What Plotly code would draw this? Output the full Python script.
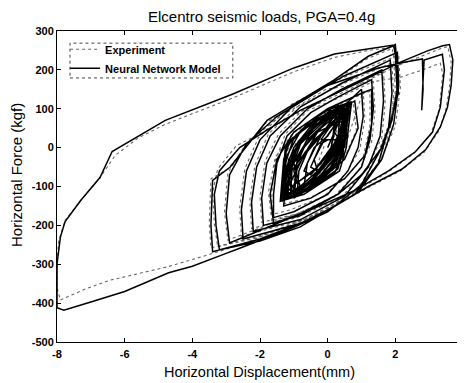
import plotly.graph_objects as go

# ---------------- data ----------------
title_text = "Elcentro seismic loads, PGA=0.4g"
x_title = "Horizontal Displacement(mm)"
y_title = "Horizontal Force (kgf)"
x_ticks = [-8, -6, -4, -2, 0, 2, 4]
y_ticks = [-500, -400, -300, -200, -100, 0, 100, 200, 300]

# Neural network model (solid) - central dense loops
nn_core_x = [0, 0.3, 0.55, 0.45, 0.2, -0.4, -0.9, -0.85, -0.6,
             0, 0.6, 0.5, 0.25, -0.5, -1.1, -1.05, -0.8,
             -0.2, 0.65, 0.5, 0.3, -0.6, -1.3, -1.25, -1.0,
             -0.3, 0.7, 0.55, 0.35, -0.7, -1.4, -1.3, -1.1,
             -0.4, 0.5, 0.4, 0.1, -0.8, -1.2, -1.15, -0.9,
             -0.1, 0.6, 0.45, 0.2, -0.5, -1.35, -1.3, -1.2,
             -0.6, 0.3, 0.7, 0.6, 0.3, -0.3, -1.0, -1.35, -1.25,
             -0.8, 0, 0.6, 0.5]
nn_core_y = [0, 60, 100, 40, -20, -80, -115, -60, -10,
             50, 105, 30, -40, -100, -125, -50, 10,
             60, 115, 10, -55, -110, -135, -40, 25,
             75, 118, 0, -60, -120, -138, -30, 20,
             70, 112, 20, -50, -118, -130, -70, 0,
             80, 110, -20, -65, -108, -132, -60, 10,
             60, 100, 112, 40, -40, -90, -128, -100, 0,
             40, 90, 115, 0]

# extra small loops filling the dark centre
nn_fill_x = [0.2, 0.35, 0.3, 0, -0.3, -0.4, -0.1,
             0.4, 0.5, 0.2, -0.5, -0.7, -0.6, -0.2,
             0.3, 0.55, 0.35, -0.2, -0.8, -1.0, -0.9, -0.5,
             0.1, 0.6, 0.45, 0.1, -0.6, -1.2, -1.25, -1.0, -0.4,
             0.0, 0.3, 0.1, -0.4, -0.9, -1.0, -0.7, -0.2,
             0.5, 0.4, -0.1, -0.9, -1.1, -0.7, -0.3, 0.2, 0.1, -0.5, -0.7, -0.4,
             0.0, 0.45, 0.6, 0.2, -0.3, -1.05, -1.3, -1.2, -0.75, -0.2, 0.4, 0.65,
             0.35, -0.1, -0.75, -1.25, -1.15, -0.6, 0.0, 0.55, 0.4, 0.0, -0.45, -0.8,
             -1.0, -0.5, 0.1, 0.5, 0.3]
nn_fill_y = [40, 70, 20, -30, -60, -30, 20,
             80, 50, -20, -90, -100, -40, 30,
             95, 90, -10, -70, -110, -110, -30, 40,
             100, 115, 50, -30, -95, -120, -80, -10, 60,
             70, 80, 0, -60, -90, -60, 0, 50,
             100, -10, -80, -125, -90, -20, 40, 60, -10, -70, -60, 0,
             30, 90, 80, 10, -50, -100, -125, -50, 20, 70, 105, 95,
             10, -45, -95, -125, -70, -5, 55, 100, 30, -30, -80, -105,
             -40, 25, 80, 90, 20]

nn_fill2_x = [-0.2, 0.2, 0.5, 0.35, 0.0, -0.5, -1.1, -1.3, -1.15, -0.7,
              -0.1, 0.4, 0.55, 0.3, -0.2, -0.8, -1.2, -1.05, -0.6, 0.0,
              0.5, 0.62, 0.4, -0.05, -0.65, -1.15, -1.38, -1.2, -0.85, -0.3,
              0.25, 0.6, 0.5, 0.15, -0.4, -0.95, -1.3, -1.3, -1.0, -0.5,
              0.1, 0.55, 0.45, 0.05, -0.5, -1.0, -1.2, -0.9, -0.35, 0.2]
nn_fill2_y = [20, 70, 95, 40, -25, -85, -120, -110, -30, 30,
              75, 105, 60, -5, -60, -105, -125, -45, 20, 70,
              100, 90, 15, -45, -100, -130, -120, -20, 35, 80,
              110, 105, 25, -35, -90, -125, -135, -70, 0, 55,
              95, 85, 0, -55, -105, -125, -70, 5, 60, 85]

# growing loops
nn_grow_x = [1.0, 1.05, 0.9, 0.6, 0, -1, -1.6, -1.6, -1.5, -1.2, -0.5, 0.3,
             1.3, 1.35, 1.25, 1.0, 0.3, -0.8, -1.9, -1.95, -1.8, -1.4, -0.6, 0.4,
             1.6, 1.65, 1.55, 1.2, 0.5, -0.8, -2.2, -2.25, -2.1, -1.7, -0.8, 0.4,
             1.85, 1.9, 1.8, 1.5, 0.8, -0.6, -2.5, -2.55, -2.4, -2.0, -1.0, 0.5,
             2.06, 2.1, 1.95, 1.6, 0.9, -0.81, -2.0, -3.2, -3.3, -3.35, -3.2, -2.6,
             -1.8, -0.81, 0.5, 2.15, 2.95, 3.4, 3.6]
nn_grow_y = [150, 80, 0, -60, -120, -165, -180, -120, -40, 30, 90, 130,
             175, 100, 20, -50, -120, -175, -200, -130, -40, 30, 100, 150,
             200, 120, 30, -50, -125, -185, -215, -140, -50, 30, 105, 165,
             225, 140, 50, -40, -120, -190, -235, -160, -60, 20, 110, 185,
             245, 160, 60, -30, -115, -204, -240, -263, -200, -120, -60, 0,
             45, 96, 150, 220, 249, 262, 265]

# largest excursions (right loop, then big loop to -8 mm)
nn_big_x = [3.7, 3.65, 3.54, 3.33, 2.9, 2.2, 1.2, 0, -0.81, -2.0, -3.4,
            -3.45, -3.4, -2.88, -1.79, 0.17, 1.2, 1.94, 2.0,
            2.06, 2.09, 1.85, 1.56, 1.0, 0, -1.0, -2.0, -2.6, -3.0, -4.0, -4.7,
            -6.0, -7.0, -7.8, -8.0, -8.0, -8.0, -7.9, -7.76, -7.3, -6.73, -6.37,
            -5.5, -4.8, -2.8, -1.0, 0.2, 1.2, 1.95]
nn_big_y = [225, 160, 104, 53, -5, -55, -100, -160, -195, -235, -268,
            -200, -84, -50, 70, 173, 235, 262, 265,
            200, 140, 63, -6, -95, -165, -205, -240, -259, -272, -305, -322,
            -370, -397, -418, -412, -380, -300, -230, -190, -136, -77, -10,
            35, 70, 138, 205, 241, 254, 264]

# decaying loops back to the centre
nn_decay_x = [2.0, 2.05, 1.9, 1.6, 1.0, 0.3, -0.8, -1.9, -2.9, -3.0, -2.9, -2.4,
              -1.5, 0, 1.5, 2.3, 2.8, 2.82, 2.78, 2.8, 2.85, 3.39,
              3.45, 3.33, 3.1, 2.6, 1.8, 0.8, -0.5, -1.6, -1.7, -1.5, -1.0, 0, 1.0,
              1.3, 1.3, 1.1, 0.5, -0.5, -1.3, -1.2, -0.8, 0, 0.8, 0.9, 0.5, -0.3,
              -1.0, -0.9, -0.4, 0.3, 0.5, 0.2, -0.3, -0.5, -0.2, 0]
nn_decay_y = [240, 150, 70, 0, -70, -120, -170, -210, -245, -170, -70, 10,
              80, 160, 205, 220, 228, 150, 96, 140, 225, 240,
              200, 104, 40, -10, -60, -110, -160, -195, -120, -30, 40, 100, 140,
              150, 60, -20, -80, -130, -150, -60, 20, 80, 120, 50, -30, -90,
              -130, -50, 20, 70, 60, -10, -60, -50, 10, 20]

# Experiment (dotted)
exp_core_x = [0.1, 0.4, 0.6, 0.5, 0.2, -0.5, -1.0, -0.9, -0.6,
              0.05, 0.65, 0.55, 0.2, -0.6, -1.2, -1.15, -0.9,
              -0.25, 0.7, 0.5, 0.25, -0.7, -1.35, -1.3, -1.05,
              -0.35, 0.6, 0.45, 0.1, -0.8, -1.4, -1.25, -0.95,
              -0.2, 0.65, 0.5]
exp_core_y = [10, 70, 105, 35, -30, -90, -120, -55, -5,
              55, 110, 20, -50, -105, -130, -45, 15,
              65, 118, 5, -60, -115, -138, -35, 25,
              80, 110, 10, -55, -120, -135, -60, 10,
              75, 115, 0]

exp_grow_x = [1.05, 1.1, 0.95, 0.55, -0.1, -1.1, -1.65, -1.65, -1.55, -1.25, -0.6, 0.25,
              1.35, 1.4, 1.3, 0.95, 0.2, -0.9, -1.95, -2.0, -1.85, -1.45, -0.7, 0.35,
              1.65, 1.7, 1.6, 1.15, 0.4, -0.9, -2.25, -2.3, -2.15, -1.75, -0.9, 0.35,
              1.9, 1.95, 1.85, 1.45, 0.7, -0.7, -2.55, -2.6, -2.45, -2.05, -1.1, 0.4,
              2.1, 2.15, 2.0, 1.55, 0.8, -0.9, -2.1, -3.25, -3.35, -3.4, -3.25, -2.7,
              -1.9, -0.9, 0.4, 2.1, 2.9, 3.35, 3.55]
exp_grow_y = [145, 75, -5, -65, -125, -160, -172, -115, -35, 35, 95, 125,
              170, 95, 15, -55, -125, -170, -192, -125, -35, 35, 100, 145,
              195, 115, 25, -55, -128, -180, -208, -135, -45, 35, 105, 160,
              218, 135, 45, -45, -122, -185, -228, -155, -55, 25, 110, 178,
              238, 155, 55, -35, -118, -196, -232, -255, -195, -115, -55, 5,
              40, 88, 140, 212, 240, 255, 260]

exp_big_x = [3.65, 3.6, 3.5, 3.3, 2.85, 2.15, 1.15, -0.05, -0.85, -2.05, -3.45,
             -3.5, -3.45, -2.95, -1.85, 0.1, 1.15, 1.9, 1.98,
             2.03, 2.05, 1.8, 1.5, 0.95, -0.05, -1.05, -2.05, -2.59, -3.5, -4.75,
             -6.43, -7.2, -7.9, -8.0, -8.0, -7.95, -7.76, -7.3, -6.73, -6.28,
             -5.6, -4.8, -2.8, -1.0, 0.2, 1.2, 1.9]
exp_big_y = [220, 155, 100, 45, -12, -60, -105, -162, -190, -228, -258,
             -195, -80, -55, 62, 165, 228, 255, 258,
             195, 135, 58, -12, -100, -160, -198, -232, -250, -275, -307,
             -341, -365, -392, -360, -297, -240, -187, -136, -77, -20,
             25, 60, 128, 195, 232, 250, 258]

exp_decay_x = [1.95, 2.0, 1.85, 1.55, 0.95, 0.25, -0.85, -1.95, -2.95, -3.05, -2.95, -2.45,
               -1.55, -0.05, 1.45, 2.15, 2.8, 3.33,
               3.4, 3.3, 3.05, 2.55, 1.75, 0.75, -0.55, -1.65, -1.75, -1.55, -1.05, -0.05, 0.95,
               1.25, 1.25, 1.05, 0.45, -0.55, -1.35, -1.25, -0.85, -0.05, 0.75, 0.85, 0.45,
               -0.35, -1.05, -0.95, -0.45, 0.25, 0.45, 0.15, -0.35, -0.1]
exp_decay_y = [235, 145, 65, -5, -75, -125, -168, -205, -238, -165, -65, 5,
               72, 150, 172, 181, 200, 217,
               190, 100, 35, -15, -65, -115, -160, -190, -115, -25, 35, 95, 135,
               145, 55, -25, -85, -130, -145, -55, 15, 75, 115, 45, -35,
               -95, -125, -45, 15, 65, 55, -15, -55, 5]

# ---------------- figure ----------------
exp_x = exp_core_x + exp_grow_x + exp_big_x + exp_decay_x
exp_y = exp_core_y + exp_grow_y + exp_big_y + exp_decay_y
nn_x = nn_core_x + nn_fill_x + nn_fill2_x + nn_grow_x + nn_big_x + nn_decay_x
nn_y = nn_core_y + nn_fill_y + nn_fill2_y + nn_grow_y + nn_big_y + nn_decay_y

font_family = "Liberation Sans, Arial, sans-serif"

fig = go.Figure()
fig.add_trace(go.Scatter(x=exp_x, y=exp_y, mode="lines", name="Experiment",
                         line=dict(color="#666666", width=1.1, dash="dot")))
fig.add_trace(go.Scatter(x=nn_x, y=nn_y, mode="lines", name="Neural Network Model",
                         line=dict(color="black", width=1.5)))

axis_common = dict(showline=True, linecolor="black", linewidth=1, mirror="ticks",
                   ticks="inside", ticklen=4, tickcolor="black", showgrid=False,
                   zeroline=False, automargin=False, ticklabeloverflow="allow",
                   tickfont=dict(family=font_family, size=11, color="black", weight="bold"))

fig.update_xaxes(range=[-8, 4], tickvals=x_ticks, ticktext=[str(v) for v in x_ticks],
                 ticklabelstandoff=2, **axis_common)
fig.update_yaxes(range=[-500, 300], tickvals=y_ticks, ticktext=[str(v) for v in y_ticks],
                 **axis_common)

fig.add_shape(type="rect", xref="paper", yref="paper", x0=0.032, x1=0.433, y0=0.849, y1=0.961,
              line=dict(color="#444444", width=1, dash="dot"), fillcolor="rgba(0,0,0,0)")

fig.add_annotation(text=x_title, xref="paper", yref="paper", x=0.498, y=-0.0965,
                   xanchor="center", yanchor="middle", showarrow=False,
                   font=dict(family=font_family, size=14.5, color="black"))
fig.add_annotation(text=y_title, xref="paper", yref="paper", x=-0.0985, y=0.537,
                   xanchor="center", yanchor="middle", showarrow=False, textangle=-90,
                   font=dict(family=font_family, size=15, color="black"))

# the page body adds an 8 px offset, so the figure is sized to land the plot
# area at the reference position inside the 465x383 window
fig.update_layout(
    template="none",
    width=457, height=375,
    margin=dict(l=49, r=2, t=23, b=41, autoexpand=False),
    paper_bgcolor="white", plot_bgcolor="white",
    title=dict(text=title_text, x=0.555, xanchor="center", y=0.991, yanchor="top",
               font=dict(family=font_family, size=15, color="black")),
    legend=dict(x=0.02, y=0.988, xanchor="left", yanchor="top", bgcolor="rgba(0,0,0,0)",
                borderwidth=0, itemwidth=30, tracegroupgap=0,
                font=dict(family=font_family, size=11, color="black", weight="bold")),
    showlegend=True,
)

fig.write_html("out.html")
